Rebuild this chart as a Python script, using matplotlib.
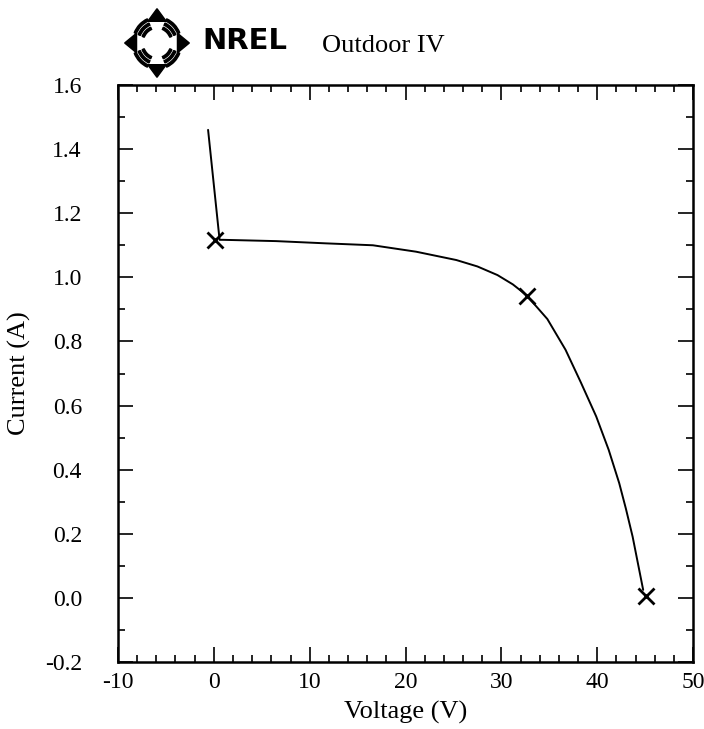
import numpy as np
import matplotlib
matplotlib.use("Agg")
import matplotlib.pyplot as plt
from matplotlib.ticker import MultipleLocator, FuncFormatter
from matplotlib.patches import Polygon, Wedge

# ---- data ----
voltage = [-0.6, 0.6, 1.0, 6.5, 11.7, 16.6, 21.1, 25.3, 27.5, 29.6, 31.2,
           32.6, 34.8, 36.7, 38.3, 39.9, 41.2, 42.3, 43.0, 43.7, 44.8]
current = [1.46, 1.117, 1.117, 1.113, 1.106, 1.100, 1.080, 1.054, 1.034,
           1.007, 0.978, 0.945, 0.870, 0.774, 0.672, 0.566, 0.462, 0.358,
           0.278, 0.191, 0.025]
marker_v = [0.1, 32.7, 45.1]
marker_i = [1.115, 0.942, 0.005]

title = "Outdoor IV"
logo_text = "NREL"
xlabel = "Voltage (V)"
ylabel = "Current (A)"
xlim = (-10, 50)
ylim = (-0.2, 1.6)

plt.rcParams['font.family'] = ['Liberation Serif', 'DejaVu Serif']
plt.rcParams['axes.unicode_minus'] = False

W, H = 704, 729
fig = plt.figure(figsize=(W / 100, H / 100), dpi=100)
ax = fig.add_axes([118 / W, 1 - 662 / H, (693 - 118) / W, (662 - 85) / H])

ax.plot(voltage, current, color='black', lw=1.4, solid_capstyle='round',
        solid_joinstyle='round')
ax.plot(marker_v, marker_i, linestyle='none', marker='x', color='black',
        markersize=11, markeredgewidth=2.0)

ax.set_xlim(*xlim)
ax.set_ylim(*ylim)
ax.xaxis.set_major_locator(MultipleLocator(10))
ax.xaxis.set_minor_locator(MultipleLocator(2))
ax.yaxis.set_major_locator(MultipleLocator(0.2))
ax.yaxis.set_minor_locator(MultipleLocator(0.1))
ax.yaxis.set_major_formatter(FuncFormatter(lambda v, p: f"{v:.1f}"))
ax.xaxis.set_major_formatter(FuncFormatter(lambda v, p: f"{v:.0f}"))
ax.tick_params(which='both', direction='in', top=True, right=True,
               labelsize=17, width=1.2, color='black')
ax.tick_params(which='major', length=11)
ax.tick_params(which='minor', length=5)
ax.tick_params(axis='x', which='major', pad=7)
ax.tick_params(axis='y', which='major', pad=26)
for s in ax.spines.values():
    s.set_linewidth(1.8)

ax.set_xlabel(xlabel, fontsize=19, labelpad=6)
ax.set_ylabel(ylabel, fontsize=19, labelpad=10)

# ---- header: logo + title ----
lax = fig.add_axes([124 / W, 1 - 78 / H, 66 / W, 70 / H])
lax.set_xlim(-1, 1)
lax.set_ylim(-1, 1)
lax.axis('off')
for ang in [90, 270, 0, 180]:
    a = np.deg2rad(ang)
    d = np.array([np.cos(a), np.sin(a)])
    p = np.array([-d[1], d[0]])
    tip = 0.98 * d
    base = 0.62 * d
    lax.add_patch(Polygon([tip, base + 0.28 * p, base - 0.28 * p], closed=True,
                          color='black'))
for ang in [45, 135, 225, 315]:
    for r in [0.42, 0.55, 0.68]:
        lax.add_patch(Wedge((0, 0), r + 0.07, ang - 22, ang + 22, width=0.07,
                            color='black'))
fig.text(202 / W, 1 - 49 / H, logo_text, fontsize=21, fontweight='heavy',
         family='DejaVu Sans', va='baseline', ha='left')
fig.text(322 / W, 1 - 52 / H, title, fontsize=19, va='baseline', ha='left')

fig.savefig("out.png", dpi=100)
